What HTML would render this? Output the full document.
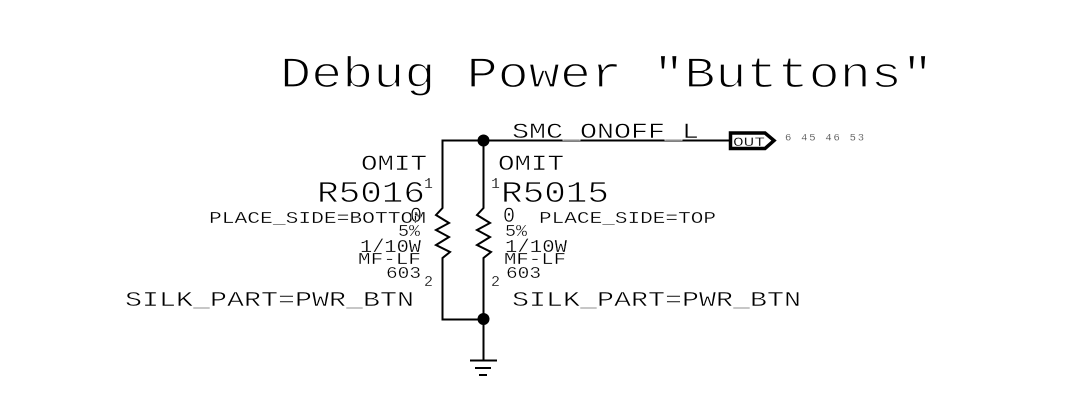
<!DOCTYPE html>
<html><head><meta charset="utf-8"><style>
html,body{margin:0;padding:0;background:#fff}
svg{display:block}
text{font-family:"Liberation Mono",monospace;fill:#000;white-space:pre;stroke:#fff;stroke-width:.3}
.t{stroke-width:1.3}
.b{stroke-width:.8}
.m{stroke-width:.5}
.s{stroke-width:.15;fill:#444}
</style></head><body>
<svg width="1076" height="416" viewBox="0 0 1076 416" xmlns="http://www.w3.org/2000/svg">
<g fill="none" stroke="#000" stroke-width="2">
<path d="M730 140.500H442.500V208L436 215L449 223L436 230L449 237L436 245L450 252L442.500 258V319.500H483.500"/>
<path d="M483.500 140.500V208L477 215L490 223L477 230L490 237L477 245L491 252L483.500 258V360"/>
<path d="M470 360.500H497M475 368H491M479 375H487"/>
<path d="M730.500 133H765L774 140.500L765 148.500H730.500Z" stroke-width="3.500"/>
</g>
<circle cx="483.500" cy="140.500" r="6" fill="#000"/>
<circle cx="483.500" cy="319" r="6" fill="#000"/>
<text class="t" x="280" y="87" font-size="44" textLength="653" lengthAdjust="spacingAndGlyphs">Debug Power "Buttons"</text>
<text class="m" x="512" y="138" font-size="22" textLength="187" lengthAdjust="spacingAndGlyphs">SMC_ONOFF_L</text>
<text x="733" y="146" font-size="13" textLength="32" lengthAdjust="spacingAndGlyphs">OUT</text>
<text class="s" x="785" y="140.500" font-size="10.500" textLength="79" lengthAdjust="spacing">6 45 46 53</text>
<text class="m" x="361" y="170" font-size="22" textLength="66" lengthAdjust="spacingAndGlyphs">OMIT</text>
<text class="b" x="317" y="202" font-size="31" textLength="108" lengthAdjust="spacingAndGlyphs">R5016</text>
<text x="424" y="188" font-size="15" textLength="9" lengthAdjust="spacingAndGlyphs">1</text>
<text x="209" y="223" font-size="16.500" textLength="217" lengthAdjust="spacingAndGlyphs">PLACE_SIDE=BOTTOM</text>
<text class="m" x="410" y="222" font-size="22" textLength="12" lengthAdjust="spacingAndGlyphs">0</text>
<text x="398" y="236" font-size="16.500" textLength="22" lengthAdjust="spacingAndGlyphs">5%</text>
<text x="360" y="252" font-size="18" textLength="61" lengthAdjust="spacingAndGlyphs">1/10W</text>
<text x="358" y="264" font-size="16.500" textLength="63" lengthAdjust="spacingAndGlyphs">MF-LF</text>
<text x="386" y="278" font-size="17" textLength="35" lengthAdjust="spacingAndGlyphs">603</text>
<text x="424" y="286" font-size="15" textLength="9" lengthAdjust="spacingAndGlyphs">2</text>
<text class="m" x="125" y="306" font-size="21" textLength="289" lengthAdjust="spacingAndGlyphs">SILK_PART=PWR_BTN</text>
<text class="m" x="498" y="170" font-size="22" textLength="66" lengthAdjust="spacingAndGlyphs">OMIT</text>
<text class="b" x="501" y="202" font-size="31" textLength="108" lengthAdjust="spacingAndGlyphs">R5015</text>
<text x="491" y="188" font-size="15" textLength="9" lengthAdjust="spacingAndGlyphs">1</text>
<text class="m" x="503" y="222" font-size="22" textLength="12" lengthAdjust="spacingAndGlyphs">0</text>
<text x="539" y="223" font-size="16.500" textLength="177" lengthAdjust="spacingAndGlyphs">PLACE_SIDE=TOP</text>
<text x="505" y="236" font-size="16.500" textLength="22" lengthAdjust="spacingAndGlyphs">5%</text>
<text x="505" y="252" font-size="18" textLength="62" lengthAdjust="spacingAndGlyphs">1/10W</text>
<text x="504" y="264" font-size="16.500" textLength="62" lengthAdjust="spacingAndGlyphs">MF-LF</text>
<text x="506" y="278" font-size="17" textLength="35" lengthAdjust="spacingAndGlyphs">603</text>
<text x="491" y="286" font-size="15" textLength="9" lengthAdjust="spacingAndGlyphs">2</text>
<text class="m" x="512" y="306" font-size="21" textLength="289" lengthAdjust="spacingAndGlyphs">SILK_PART=PWR_BTN</text>
</svg>
</body></html>
